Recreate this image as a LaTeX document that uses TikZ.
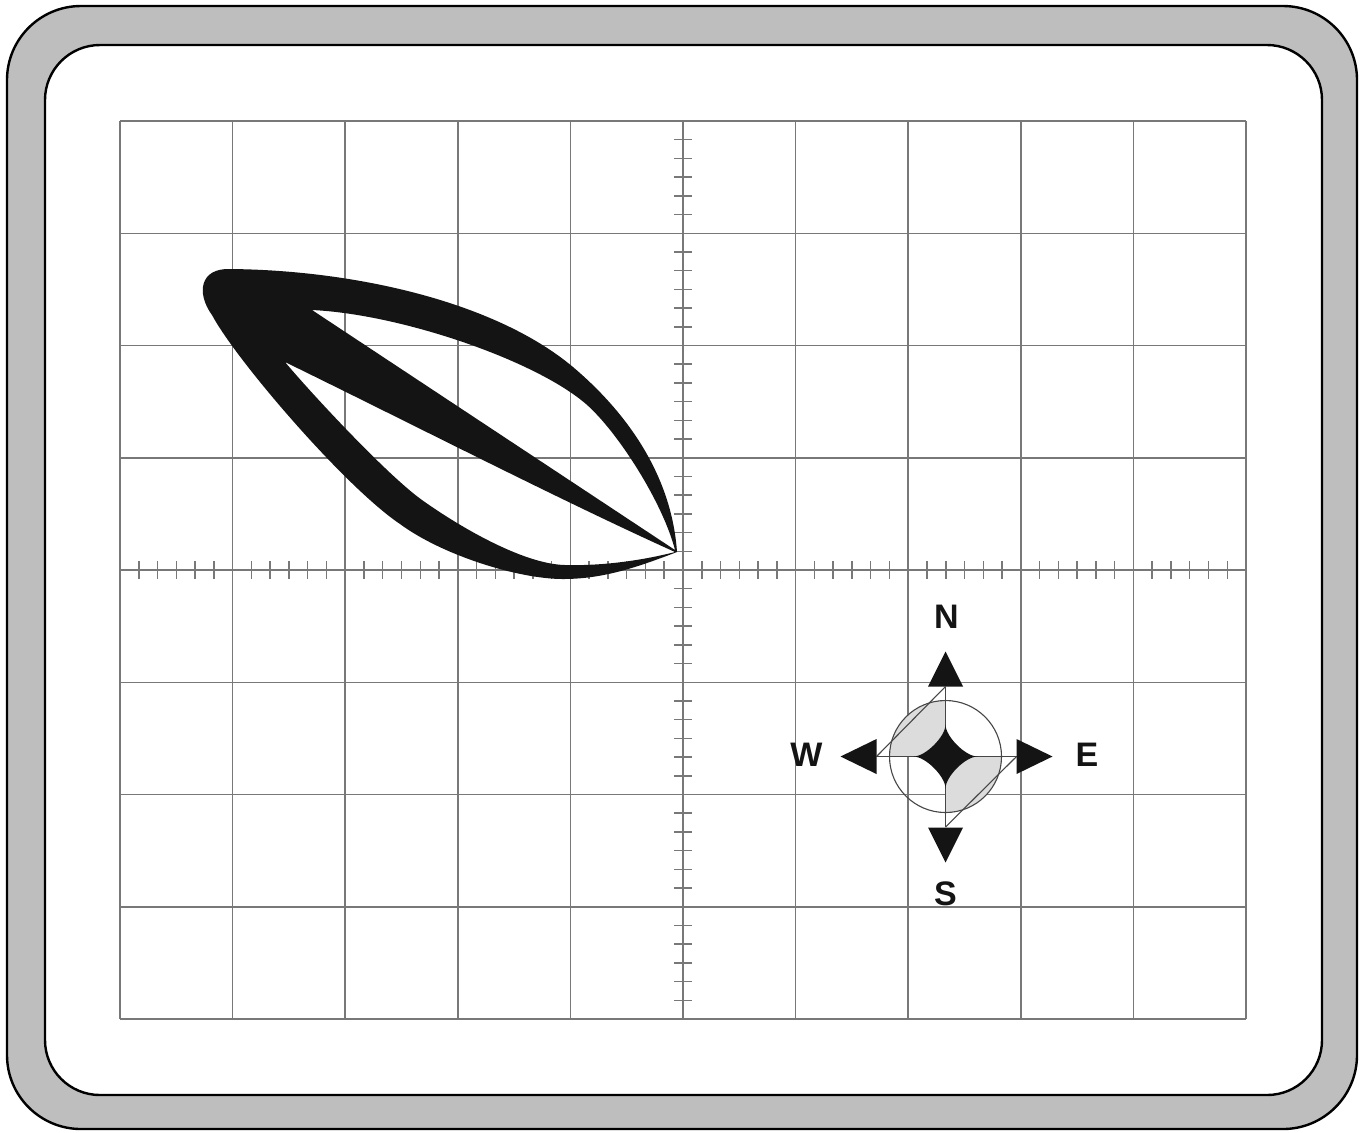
\documentclass[tikz,border=0pt]{standalone}
\usepackage{fontspec}
\setmainfont{Liberation Sans}
\definecolor{frameg}{RGB}{190,190,190}
\definecolor{gridc}{RGB}{120,120,120}
\definecolor{leafc}{RGB}{20,20,20}
\definecolor{lightg}{RGB}{220,220,220}
\definecolor{thinc}{RGB}{70,70,70}
\begin{document}
\begin{tikzpicture}[x=0.5pt,y=-0.5pt,
  framebox/.style={draw=black,line width=1.2pt},
  gridline/.style={draw=gridc,line width=0.75pt},
  tickline/.style={draw=gridc,line width=0.75pt},
  thinline/.style={draw=thinc,line width=0.55pt},
  leaf/.style={fill=leafc,even odd rule},
  arrowtri/.style={fill=leafc},
  compasslbl/.style={font=\bfseries\fontsize{17}{17}\selectfont,inner sep=0pt,text=leafc}
]
\useasboundingbox (0,0) rectangle (1363,1132);
% frame
\draw[framebox,fill=frameg,rounded corners=37pt] (7,6) rectangle (1357,1129);
\draw[framebox,fill=white,rounded corners=27.5pt] (45,45) rectangle (1322,1095);
% grid
\foreach \i in {0,...,10} \draw[gridline] ({120+\i*112.6},121) -- ({120+\i*112.6},1019);
\foreach \j in {0,...,8} \draw[gridline] (120,{121+\j*112.25}) -- (1246,{121+\j*112.25});
% ticks
\foreach \k in {0,...,9} \foreach \s in {1,...,5}
  \draw[tickline] ({120+(\k+\s/6)*112.6},561) -- ++(0,18);
\foreach \k in {0,...,7} \foreach \s in {1,...,5}
  \draw[tickline] (674,{121+(\k+\s/6)*112.25}) -- ++(18,0);
% leaf figure
\path[leaf]
  (677,552) .. controls (640,566) and (605,579) .. (563,579)
  .. controls (518,579) and (442,555) .. (400,524)
  .. controls (345,487) and (236,360) .. (212,315)
  .. controls (196,293) and (200,268) .. (230,269)
  .. controls (350,270) and (493,300) .. (573,367)
  .. controls (632,417) and (672,480) .. (677,552) -- cycle
  (312,310) .. controls (400,314) and (535,360) .. (586,404)
  .. controls (618,432) and (663,503) .. (675,550) -- cycle
  (285,362) .. controls (420,428) and (560,500) .. (675,552)
  .. controls (640,561) and (600,566) .. (565,565)
  .. controls (522,564) and (457,525) .. (422,500)
  .. controls (387,475) and (310,392) .. (285,362) -- cycle;
% compass
\coordinate (C) at (945.5,756.5);
\begin{scope}
  \clip (945.5,756.5) rectangle (880,690);
  \fill[lightg] (C) circle[radius=56];
\end{scope}
\begin{scope}
  \clip (945.5,756.5) rectangle (1011,823);
  \fill[lightg] (C) circle[radius=56];
\end{scope}
\draw[thinline] (945.5,686.5) -- (945.5,827);
\draw[thinline] (876.5,756.5) -- (1016.5,756.5);
\draw[thinline] (945.5,686.5) -- (876.5,756.5);
\draw[thinline] (1016.5,756.5) -- (945.5,827);
\draw[thinline] (C) circle[radius=56];
\begin{scope}[shift={(C)}]
  \fill[leafc] (0,-32) .. controls (0,-20) and (20,0) .. (32,0)
    .. controls (20,0) and (0,20) .. (0,32)
    .. controls (0,20) and (-20,0) .. (-32,0)
    .. controls (-20,0) and (0,-20) .. (0,-32) -- cycle;
\end{scope}
\fill[arrowtri] (945.5,651.5) -- (963,686.5) -- (928,686.5) -- cycle;
\fill[arrowtri] (945.5,862.5) -- (963,827.5) -- (928,827.5) -- cycle;
\fill[arrowtri] (840.5,756.5) -- (876.5,739) -- (876.5,774) -- cycle;
\fill[arrowtri] (1052.5,756.5) -- (1016.5,739) -- (1016.5,774) -- cycle;
\node[compasslbl] (lblN) at (946.5,617) {N};
\node[compasslbl] (lblS) at (945.5,894) {S};
\node[compasslbl] (lblW) at (806.5,755) {W};
\node[compasslbl] (lblE) at (1087,755) {E};
\end{tikzpicture}
\end{document}
